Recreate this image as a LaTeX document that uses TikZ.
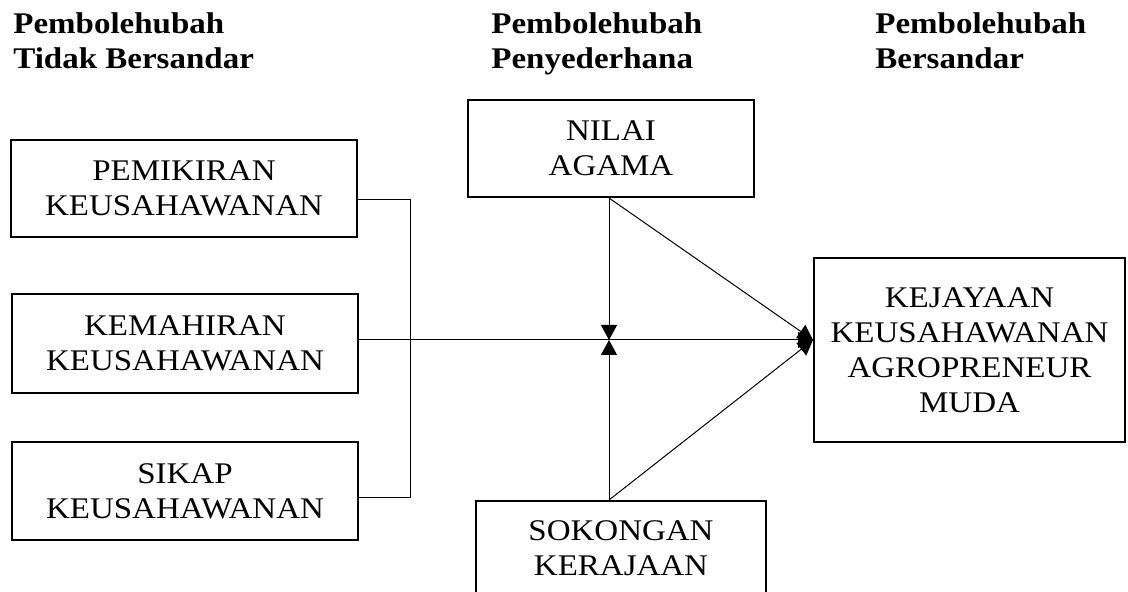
\documentclass[tikz,border=0pt]{standalone}
\usepackage{fontspec}
\setmainfont[FakeStretch=1.1]{Liberation Serif}
\usetikzlibrary{arrows.meta}
\tikzset{
  box/.style={draw, line width=1pt, align=center, inner sep=0pt,
    font=\fontsize{15}{17.5}\selectfont},
  heading/.style={anchor=north west, align=left, inner sep=0pt,
    font=\fontsize{15}{17.75}\selectfont\bfseries},
  link/.style={line width=0.5pt},
  arr/.style={link, -{Triangle[length=7.5pt,width=8pt]}}
}

\begin{document}
\begin{tikzpicture}[x=0.5pt,y=-0.5pt]
\useasboundingbox (0,0) rectangle (1128,592);

\node[heading] (h1) at (13,12) {Pembolehubah\\Tidak Bersandar};
\node[heading] (h2) at (491,12) {Pembolehubah\\Penyederhana};
\node[heading] (h3) at (875,12) {Pembolehubah\\Bersandar};

\node[box, minimum width=173pt, minimum height=48.5pt] (pem) at (184,188.5) {PEMIKIRAN\\KEUSAHAWANAN};
\node[box, minimum width=173pt, minimum height=49.5pt] (kem) at (185,343.5) {KEMAHIRAN\\KEUSAHAWANAN};
\node[box, minimum width=173pt, minimum height=49pt] (sik) at (185,491) {SIKAP\\KEUSAHAWANAN};
\node[box, minimum width=143pt, minimum height=48.5pt] (nil) at (611,148.5) {NILAI\\AGAMA};
\node[box, minimum width=145pt, minimum height=47.5pt] (sok) at (621,548.5) {SOKONGAN\\KERAJAAN};
\node[box, minimum width=155.5pt, minimum height=92pt] (kej) at (969.5,350) {KEJAYAAN\\KEUSAHAWANAN\\AGROPRENEUR\\MUDA};

\coordinate (jtop) at (410,200);
\coordinate (jbot) at (410,497);
\coordinate (mid) at (609,340);
\coordinate (tip) at (kej.west |- mid);

\draw[link] (pem.east |- jtop) -- (jtop) -- (jbot) -- (sik.east |- jbot);
\draw[arr] (kem.east |- mid) -- (tip);

% moderators
\draw[arr] (nil.south -| mid) -- (mid);
\draw[arr] (nil.south -| mid) -- (tip);
\draw[arr] (sok.north -| mid) -- (mid);
\draw[arr] (sok.north -| mid) -- (tip);

\end{tikzpicture}
\end{document}
